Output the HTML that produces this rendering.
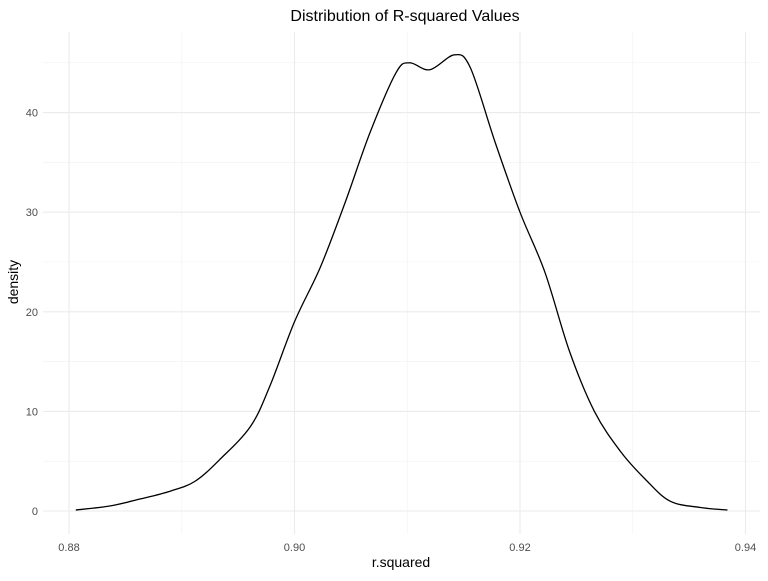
<!DOCTYPE html>
<html><head><meta charset="utf-8"><style>
body{margin:0;background:#fff;}
svg text{font-family:"Liberation Sans",sans-serif;}
</style></head><body>
<svg id="chart" width="768" height="576">
<g id="grid"></g><g id="marks"></g><g id="axes"></g>
<text x="405" y="21" text-anchor="middle" font-size="16" fill="#000">Distribution of R-squared Values</text>
<text x="401" y="567" text-anchor="middle" font-size="14" fill="#000">r.squared</text>
<text transform="translate(18,282) rotate(-90)" text-anchor="middle" font-size="14" fill="#000">density</text>
</svg>
<script>
const xVals=[0.8806,0.8836,0.8863,0.8890,0.8912,0.8934,0.8961,0.8978,0.9000,0.9023,0.9045,0.9067,0.9090,0.9102,0.9120,0.9142,0.9156,0.9178,0.9200,0.9222,0.9244,0.9266,0.9289,0.9311,0.9333,0.9360,0.9384];
const densVals=[0.1,0.5,1.2,2.0,3.0,5.2,8.5,12.5,19,24.5,31,38,44,45,44.3,45.8,44.5,37,30,24,16,10,6,3.2,1.0,0.35,0.1];
const xTicks=[0.88,0.90,0.92,0.94];
const xTickLabels=["0.88","0.90","0.92","0.94"];
const yTicks=[0,10,20,30,40];
const yTickLabels=["0","10","20","30","40"];
const xMinor=[0.89,0.91,0.93];
const yMinor=[5,15,25,35,45];
const NS="http://www.w3.org/2000/svg";
const L=43,R=760,T=32,B=534;
const sx=v=>69+(v-0.88)*(225.5/0.02);
const sy=v=>511-v*9.96;
function mk(tag,attrs,parent){const e=document.createElementNS(NS,tag);for(const k in attrs)e.setAttribute(k,attrs[k]);parent.appendChild(e);return e;}
const grid=document.getElementById('grid'),marks=document.getElementById('marks'),axes=document.getElementById('axes');
xMinor.forEach(v=>{const l=mk('line',{x1:sx(v),x2:sx(v),y1:T,y2:B,stroke:'#f2f2f2','stroke-width':0.6},grid);

});
yMinor.forEach(v=>{const l=mk('line',{x1:L,x2:R,y1:sy(v),y2:sy(v),stroke:'#f2f2f2','stroke-width':0.6},grid);

});
xTicks.forEach((v,i)=>{const l=mk('line',{x1:sx(v),x2:sx(v),y1:T,y2:B,stroke:'#ebebeb','stroke-width':1.1},grid);


const t=mk('text',{x:sx(v),y:551,'text-anchor':'middle','font-size':11,fill:'#4d4d4d'},axes);t.textContent=xTickLabels[i];

});
yTicks.forEach((v,i)=>{const l=mk('line',{x1:L,x2:R,y1:sy(v),y2:sy(v),stroke:'#ebebeb','stroke-width':1.1},grid);


const t=mk('text',{x:38,y:sy(v)+4,'text-anchor':'end','font-size':11,fill:'#4d4d4d'},axes);t.textContent=yTickLabels[i];

});
const pts=xVals.map((v,i)=>[sx(v),sy(densVals[i])]);
let d='M'+pts[0][0]+','+pts[0][1];
for(let i=0;i<pts.length-1;i++){const p0=pts[Math.max(0,i-1)],p1=pts[i],p2=pts[i+1],p3=pts[Math.min(pts.length-1,i+2)];
const c1=[p1[0]+(p2[0]-p0[0])/6,p1[1]+(p2[1]-p0[1])/6],c2=[p2[0]-(p3[0]-p1[0])/6,p2[1]-(p3[1]-p1[1])/6];
d+=` C${c1[0]},${c1[1]} ${c2[0]},${c2[1]} ${p2[0]},${p2[1]}`;}
const path=mk('path',{d:d,fill:'none',stroke:'#000','stroke-width':1.3},marks);


</script>
</body></html>
